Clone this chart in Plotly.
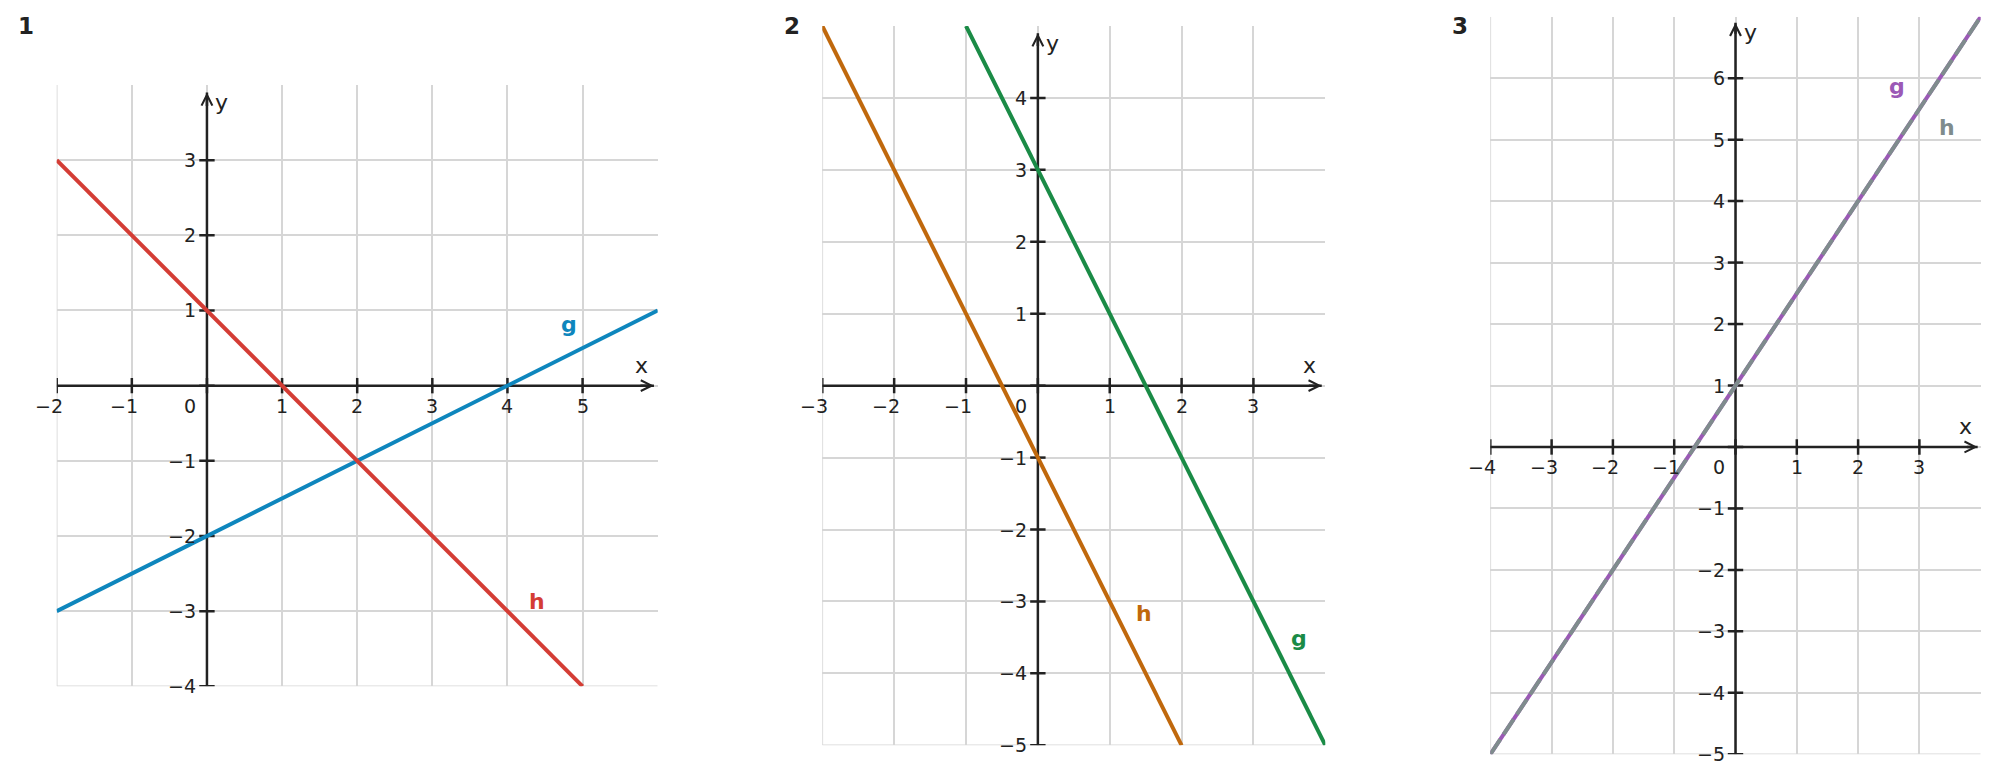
"""
Three coordinate-plane panels, each with a pair of linear functions g and h.
"""

import plotly.graph_objects as go

W, H = 1999, 783

# ---- panel 1 ----------------------------------------------------------------
p1_x_range = [-2, 6]
p1_y_range = [-4, 4]
p1_x_ticks = [-2, -1, 0, 1, 2, 3, 4, 5]
p1_y_ticks = [-4, -3, -2, -1, 0, 1, 2, 3]
p1_g_x = [-2, 6]
p1_g_y = [-3, 1]
p1_h_x = [-2, 5]
p1_h_y = [3, -4]

# ---- panel 2 ----------------------------------------------------------------
p2_x_range = [-3, 4]
p2_y_range = [-5, 5]
p2_x_ticks = [-3, -2, -1, 0, 1, 2, 3]
p2_y_ticks = [-5, -4, -3, -2, -1, 0, 1, 2, 3, 4]
p2_g_x = [-1, 4]
p2_g_y = [5, -5]
p2_h_x = [-3, 2]
p2_h_y = [5, -5]

# ---- panel 3 ----------------------------------------------------------------
p3_x_range = [-4, 4]
p3_y_range = [-5, 7]
p3_x_ticks = [-4, -3, -2, -1, 0, 1, 2, 3]
p3_y_ticks = [-5, -4, -3, -2, -1, 0, 1, 2, 3, 4, 5, 6]
p3_g_x = [-4, 4]
p3_g_y = [-5, 7]
p3_h_x = [-4, 4]
p3_h_y = [-5, 7]

FONT = "DejaVu Sans"
INK = "#222222"
GRID = "#d6d6d6"

# pixel boxes of the three panels (left, top, right, bottom)
PANELS = [
    dict(num="1", box=(56.7, 85.0, 657.7, 686.3), title_xy=(26, 26),
         xr=p1_x_range, yr=p1_y_range, xt=p1_x_ticks, yt=p1_y_ticks,
         g=(p1_g_x, p1_g_y, "#0e86bd"), h=(p1_h_x, p1_h_y, "#d43d35"),
         g_lab=(4.82, 0.82), h_lab=(4.39, -2.87), h_dash=None),
    dict(num="2", box=(822.3, 26.0, 1325.3, 745.3), title_xy=(792, 26.5),
         xr=p2_x_range, yr=p2_y_range, xt=p2_x_ticks, yt=p2_y_ticks,
         g=(p2_g_x, p2_g_y, "#1a8b46"), h=(p2_h_x, p2_h_y, "#c0680c"),
         g_lab=(3.63, -3.51), h_lab=(1.47, -3.17), h_dash=None),
    dict(num="3", box=(1490.3, 16.7, 1980.7, 754.3), title_xy=(1459.7, 26.3),
         xr=p3_x_range, yr=p3_y_range, xt=p3_x_ticks, yt=p3_y_ticks,
         g=(p3_g_x, p3_g_y, "#9b59b6"), h=(p3_h_x, p3_h_y, "#7f8c8d"),
         g_lab=(2.63, 5.87), h_lab=(3.45, 5.2), h_dash="18px,6px"),
]


def _num(v):
    """Tick text with a real minus sign."""
    return f"\u2212{abs(v)}" if v < 0 else str(v)


def add_panel(fig, i, p):
    sfx = "" if i == 1 else str(i)
    xref, yref = "x" + sfx, "y" + sfx
    left, top, right, bottom = p["box"]
    xr, yr = p["xr"], p["yr"]

    fig.layout["xaxis" + sfx] = dict(
        domain=[left / W, right / W], range=xr, anchor=yref,
        tickvals=p["xt"], showticklabels=False, showgrid=True,
        gridcolor=GRID, gridwidth=1.6, zeroline=False, showline=False,
        ticks="", fixedrange=True,
    )
    fig.layout["yaxis" + sfx] = dict(
        domain=[1 - bottom / H, 1 - top / H], range=yr, anchor=xref,
        tickvals=p["yt"], showticklabels=False, showgrid=True,
        gridcolor=GRID, gridwidth=1.6, zeroline=False, showline=False,
        ticks="", fixedrange=True,
    )

    # plotly skips grid lines sitting on the range edge, so add those two
    fig.add_shape(type="line", x0=xr[0], x1=xr[0], y0=yr[0], y1=yr[1],
                  xref=xref, yref=yref, layer="below",
                  line=dict(color=GRID, width=1.6))
    fig.add_shape(type="line", x0=xr[0], x1=xr[1], y0=yr[0], y1=yr[0],
                  xref=xref, yref=yref, layer="below",
                  line=dict(color=GRID, width=1.6))

    x_tip = xr[1] - 0.05
    y_tip = yr[1] - 0.1

    # axis lines (under the function graphs)
    fig.add_trace(go.Scatter(x=[xr[0], x_tip], y=[0, 0], mode="lines",
                             line=dict(color=INK, width=2.5),
                             xaxis=xref, yaxis=yref, hoverinfo="skip"))
    fig.add_trace(go.Scatter(x=[0, 0], y=[yr[0], y_tip], mode="lines",
                             line=dict(color=INK, width=2.5),
                             xaxis=xref, yaxis=yref, hoverinfo="skip"))
    # tick marks
    fig.add_trace(go.Scatter(x=p["xt"], y=[0] * len(p["xt"]), mode="markers",
                             marker=dict(symbol="line-ns", size=11,
                                         line=dict(color=INK, width=2.5)),
                             xaxis=xref, yaxis=yref, hoverinfo="skip"))
    fig.add_trace(go.Scatter(x=[0] * len(p["yt"]), y=p["yt"], mode="markers",
                             marker=dict(symbol="line-ew", size=11,
                                         line=dict(color=INK, width=2.5)),
                             xaxis=xref, yaxis=yref, hoverinfo="skip"))

    # function graphs
    gx, gy, gcol = p["g"]
    hx, hy, hcol = p["h"]
    fig.add_trace(go.Scatter(x=gx, y=gy, mode="lines",
                             line=dict(color=gcol, width=4),
                             xaxis=xref, yaxis=yref, name="g"))
    fig.add_trace(go.Scatter(x=hx, y=hy, mode="lines",
                             line=dict(color=hcol, width=4,
                                       dash=p["h_dash"] or "solid"),
                             xaxis=xref, yaxis=yref, name="h"))

    ann = []
    # arrow heads (open chevrons)
    ann.append(dict(x=x_tip, y=0, ax=x_tip - 0.2, ay=0, xref=xref, yref=yref,
                    axref=xref, ayref=yref, text="", showarrow=True,
                    arrowhead=5, arrowsize=0.85, arrowwidth=2.5, arrowcolor=INK))
    ann.append(dict(x=0, y=y_tip, ax=0, ay=y_tip - 0.2, xref=xref, yref=yref,
                    axref=xref, ayref=yref, text="", showarrow=True,
                    arrowhead=5, arrowsize=0.85, arrowwidth=2.5, arrowcolor=INK))
    # axis names
    ann.append(dict(x=x_tip, y=0, xref=xref, yref=yref, text="x",
                    showarrow=False, xshift=-12, yshift=20,
                    font=dict(family=FONT, size=22, color=INK)))
    ann.append(dict(x=0, y=y_tip, xref=xref, yref=yref, text="y",
                    showarrow=False, xshift=15, yshift=-10,
                    font=dict(family=FONT, size=22, color=INK)))
    # tick labels
    tick_font = dict(family=FONT, size=19, color=INK)
    for v in p["xt"]:
        if v == 0:
            continue
        ann.append(dict(x=v, y=0, xref=xref, yref=yref, text=_num(v),
                        showarrow=False, xanchor="right", xshift=8,
                        yshift=-20, font=tick_font))
    for v in p["yt"]:
        if v == 0:
            continue
        ann.append(dict(x=0, y=v, xref=xref, yref=yref, text=_num(v),
                        showarrow=False, xanchor="right", xshift=-9,
                        font=tick_font))
    ann.append(dict(x=0, y=0, xref=xref, yref=yref, text="0",
                    showarrow=False, xshift=-17, yshift=-20, font=tick_font))
    # function names
    ann.append(dict(x=p["g_lab"][0], y=p["g_lab"][1], xref=xref, yref=yref,
                    text="g", showarrow=False,
                    font=dict(family=FONT, size=22, color=gcol, weight="bold")))
    ann.append(dict(x=p["h_lab"][0], y=p["h_lab"][1], xref=xref, yref=yref,
                    text="h", showarrow=False,
                    font=dict(family=FONT, size=22, color=hcol, weight="bold")))
    # panel number
    tx, ty = p["title_xy"]
    ann.append(dict(x=tx / W, y=1 - ty / H, xref="paper", yref="paper",
                    xanchor="center", yanchor="middle",
                    text=p["num"], showarrow=False,
                    font=dict(family=FONT, size=23, color=INK, weight="bold")))
    for a in ann:
        fig.add_annotation(a)


fig = go.Figure()
for i, p in enumerate(PANELS, start=1):
    add_panel(fig, i, p)

fig.update_layout(
    width=W,
    height=H,
    autosize=False,
    margin=dict(l=0, r=0, t=0, b=0),
    paper_bgcolor="white",
    plot_bgcolor="white",
    showlegend=False,
    font=dict(family=FONT, color=INK),
)

# the page body has a default 8px margin; drop it so the figure sits at 0,0
fig.write_html("out.html", config={"displayModeBar": False},
               post_script="document.body.style.margin = '0px';")
